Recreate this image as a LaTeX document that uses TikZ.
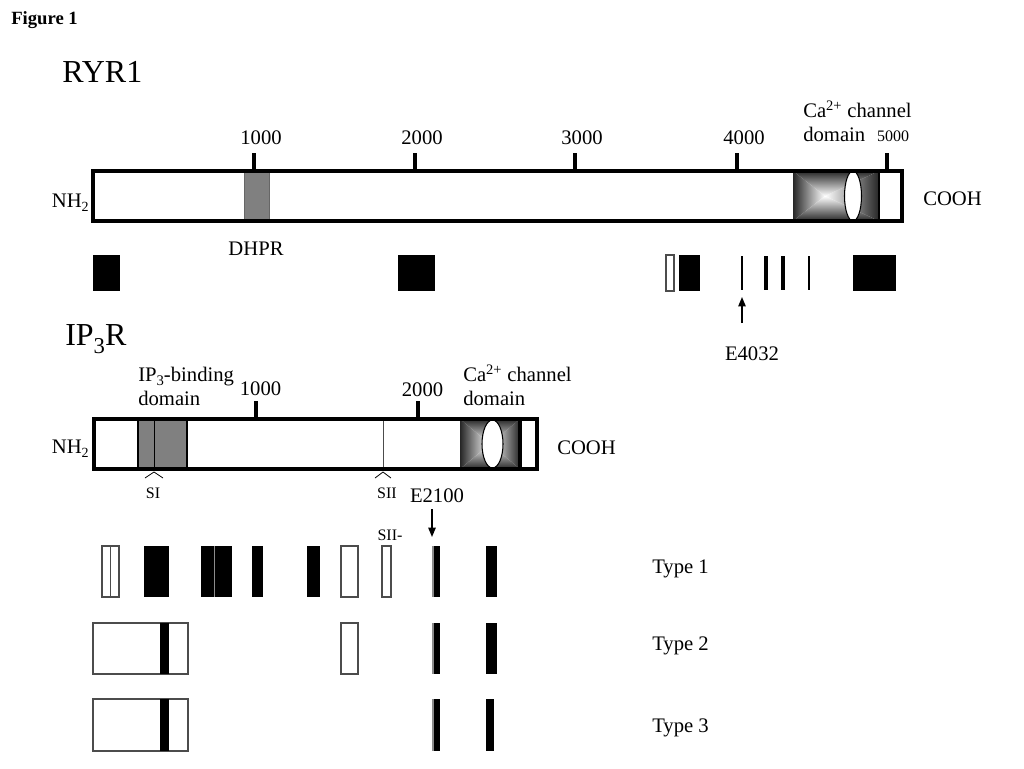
\documentclass[tikz,border=0pt]{standalone}
\usepackage{fontspec}
\setmainfont{Liberation Serif}
\usetikzlibrary{positioning, arrows.meta}

% channel domain: left, right, top, bottom, centre x
\newcommand{\chandomain}[5]{%
  \shade[left color=black!85, right color=white] (#1,#3) -- (#5,{(#3+#4)/2}) -- (#1,#4) -- cycle;
  \shade[left color=white, right color=black!85] (#2,#3) -- (#5,{(#3+#4)/2}) -- (#2,#4) -- cycle;
  \shade[top color=black!85, bottom color=white] (#1,#3) -- (#5,{(#3+#4)/2}) -- (#2,#3) -- cycle;
  \shade[top color=white, bottom color=black!85] (#1,#4) -- (#5,{(#3+#4)/2}) -- (#2,#4) -- cycle;
}
% lowered subscript: drop, size, text
\newcommand{\lowsub}[3]{\raisebox{-#1}{\fontsize{#2}{#2}\selectfont #3}}

\begin{document}
\begin{tikzpicture}[x=0.75pt, y=-0.75pt,
        every node/.style={inner sep=0pt, font=\fontsize{15.5}{18}\selectfont},
        big/.style={font=\fontsize{24}{28}\selectfont},
        small/.style={font=\fontsize{12}{14}\selectfont},
        protein/.style={draw, line width=2.5pt},
        ticks/.style={line width=2.6pt},
        graybox/.style={draw=black!60, fill=black!50},
        hollow/.style={draw=black!70, line width=0.8pt, fill=white},
        caret/.style={line width=0.6pt},
        arrow/.style={line width=1.1pt, -{Triangle[length=7pt, width=5.5pt]}}]

        \useasboundingbox (0,0) rectangle (1024,768);

        \node[anchor=base west, font=\bfseries\fontsize{14}{16}\selectfont] (fig) at (11,24) {Figure 1};

        % RYR1
        \node[big, anchor=base west] (ryr) at (62,82) {RYR1};
        \fill[white] (93,171) rectangle (902,221);
        \chandomain{793}{879}{171}{221}{825}
        \draw[line width=1pt] (879,171) -- (879,221);
        \draw[graybox] (244,171) rectangle (269,221);
        \draw[fill=white, line width=0.8pt] (853,196) ellipse (8.5 and 25);
        \draw[protein] (93,171) rectangle (902,221);
        \foreach \x/\n in {254/1000, 415/2000, 575/3000, 737/4000} {
            \draw[ticks] (\x,153) -- (\x,171);
            \node[anchor=base] (r\n) at (\x+7,144) {\n};
        }
        \draw[ticks] (887,153) -- (887,171);
        \node[small, anchor=base] (r5000) at (893,141) {5000};
        \node[anchor=base west] (rca) at (803,117) {Ca\textsuperscript{2+} channel};
        \node[anchor=base west] (rdom) at (803,141) {domain};
        \node[anchor=base east] (rnh) at (89,207) {NH\lowsub{3.5pt}{10.5pt}{2}};
        \node[anchor=base west] (rco) at (923,205) {COOH};
        \node[anchor=base] (dhpr) at (256,255) {DHPR};

        \fill (93,255) rectangle (120,291);
        \fill (398,255) rectangle (435,291);
        \draw[hollow] (666,255) rectangle (674,291);
        \fill (679,255) rectangle (700,291);
        \fill (853,255) rectangle (896,291);
        \foreach \x/\w in {742/1.1, 766/2.6, 783/2.6, 809/1.1}
            \draw[line width=\w pt] (\x,256) -- (\x,290);

        \node[anchor=base] (e4032) at (752,360) {E4032};
        \coordinate (e4032tail) at (742,323);
        \coordinate (e4032tip) at (742,297);
        \draw[arrow] (e4032tail) -- (e4032tip);

        % IP3R
        \node[big, anchor=base west] (ip3r) at (65,345) {IP\lowsub{6pt}{17pt}{3}R};
        \fill[white] (94,419) rectangle (537,469);
        \chandomain{460}{520}{419}{469}{490}
        \draw[draw=black, fill=black!50, line width=1.5pt] (138,419) rectangle (187,469);
        \draw[line width=0.6pt] (154,419) -- (154,469);
        \draw[black!70, line width=0.6pt] (383,419) -- (383,469);
        \draw[line width=2.5pt] (520,419) -- (520,469);
        \draw[fill=white, line width=0.8pt] (492.5,444) ellipse (10.5 and 24);
        \draw[protein] (94,419) rectangle (537,469);
        \draw[ticks] (256,401) -- (256,419);
        \draw[ticks] (418,401) -- (418,419);
        \node[anchor=base] (i1000) at (260.5,395) {1000};
        \node[anchor=base] (i2000) at (422.5,396) {2000};
        \node[anchor=base west] (ibind) at (138,381) {IP\lowsub{3.5pt}{11pt}{3}-binding};
        \node[anchor=base west] (idom) at (138,405) {domain};
        \node[anchor=base west] (ica) at (463,381) {Ca\textsuperscript{2+} channel};
        \node[anchor=base west] (icadom) at (463,405) {domain};
        \node[anchor=base east] (inh) at (89,453) {NH\lowsub{3.5pt}{10.5pt}{2}};
        \node[anchor=base west] (ico) at (557,454) {COOH};

        \draw[caret] (145,478) -- (154,472) -- (163,478);
        \draw[caret] (375,478) -- (383,472) -- (391,478);
        \node[small, anchor=base] (si) at (153,498) {SI};
        \node[small, anchor=base] (sii) at (387,498) {SII};
        \node[small, anchor=base] (siim) at (390,540) {SII-};

        \node[anchor=base] (e2100) at (437,502) {E2100};
        \coordinate (e2100tail) at (432,509);
        \coordinate (e2100tip) at (432,537);
        \draw[arrow] (e2100tail) -- (e2100tip);

        % splice variants
        \draw[hollow] (102,546) rectangle (119,597);
        \draw[black!70, line width=0.8pt] (110.5,546) -- (110.5,597);
        \fill (144,546) rectangle (169,597);
        \fill (201,546) rectangle (232,597);
        \draw[black!45, line width=0.8pt] (214.5,546) -- (214.5,597);
        \fill (252,546) rectangle (263,597);
        \fill (307,546) rectangle (320,597);
        \draw[hollow] (341,546) rectangle (358,597);
        \draw[hollow] (382,546) rectangle (391,597);
        \fill (486,546) rectangle (497,597);

        \draw[hollow] (93,623) rectangle (188,674);
        \fill (160,623) rectangle (169,674);
        \draw[hollow] (341,623) rectangle (358,674);
        \fill (486,623) rectangle (497,674);

        \draw[hollow] (93,699) rectangle (188,751);
        \fill (160,699) rectangle (169,751);
        \fill (486,699) rectangle (494,751);

        \foreach \t/\b in {546/597, 623/674, 699/751} {
            \fill (434,\t) rectangle (440,\b);
            \draw[black!45, line width=0.8pt] (433,\t) -- (433,\b);
        }

        \node[anchor=base west] (t1) at (652,573) {Type 1};
        \node[anchor=base west] (t2) at (652,650) {Type 2};
        \node[anchor=base west] (t3) at (652,732) {Type 3};

    \end{tikzpicture}
\end{document}
